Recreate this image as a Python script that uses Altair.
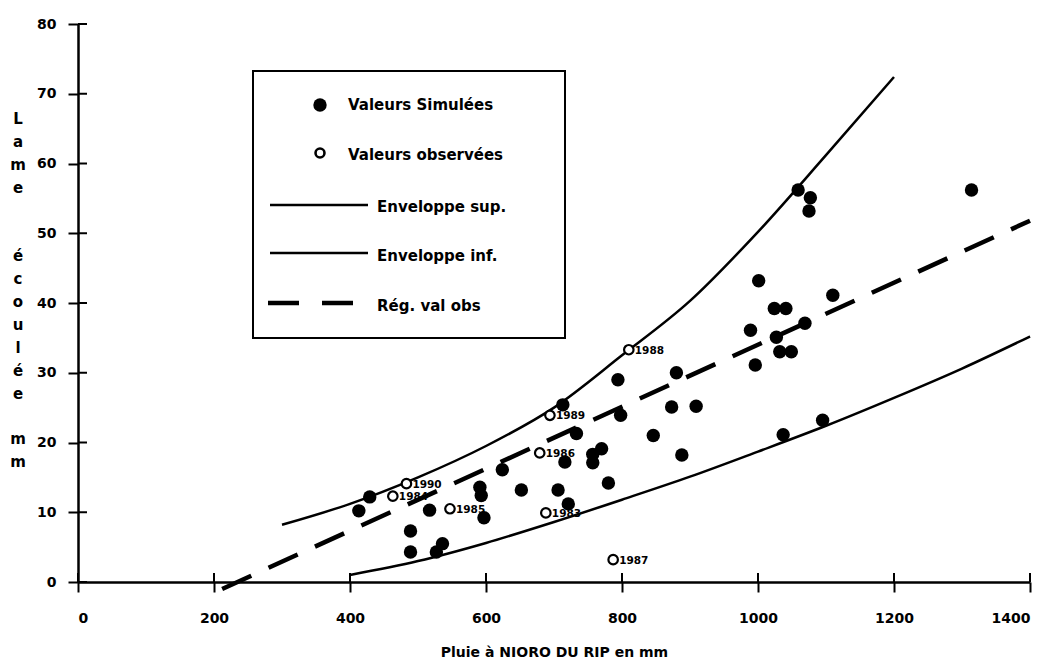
import altair as alt
import pandas as pd

# Lame écoulée simulée (mm) en fonction de la pluie à Nioro du Rip (mm)
sim_pluie = [413, 429, 489, 489, 517, 527, 536, 591, 593, 597, 624, 652, 706, 713,
             716, 721, 733, 757, 757, 770, 780, 794, 798, 846, 873, 880, 888, 909,
             989, 996, 1001, 1024, 1027, 1032, 1037, 1041, 1049, 1059, 1069, 1075,
             1077, 1095, 1110, 1314]
sim_lame = [10.2, 12.2, 7.3, 4.3, 10.3, 4.3, 5.5, 13.6, 12.4, 9.2, 16.1, 13.2, 13.2, 25.4,
            17.2, 11.2, 21.3, 18.3, 17.1, 19.1, 14.2, 29.0, 23.9, 21.0, 25.1, 30.0, 18.2, 25.2,
            36.1, 31.1, 43.2, 39.2, 35.1, 33.0, 21.1, 39.2, 33.0, 56.2, 37.1, 53.2,
            55.1, 23.2, 41.1, 56.2]

# Valeurs observées, avec l'année
obs_pluie = [463, 483, 547, 679, 688, 694, 787, 810]
obs_lame = [12.3, 14.1, 10.5, 18.5, 9.9, 23.9, 3.2, 33.3]
obs_annee = ["1984", "1990", "1985", "1986", "1983", "1989", "1987", "1988"]

# Enveloppes supérieure et inférieure
sup_pluie = [300, 400, 500, 600, 700, 800, 900, 1000, 1100, 1200]
sup_lame = [8.2, 11.2, 15.0, 19.5, 25.0, 32.5, 40.3, 50.2, 61.2, 72.4]
inf_pluie = [400, 500, 600, 700, 800, 900, 1000, 1100, 1200, 1300, 1400]
inf_lame = [1.0, 3.0, 5.6, 8.6, 11.8, 15.1, 18.7, 22.4, 26.4, 30.6, 35.2]

# Droite de régression sur les valeurs observées
reg_pluie = [212, 1400]
reg_lame = [-1.0, 51.8]

x_ticks = [0, 200, 400, 600, 800, 1000, 1200, 1400]
y_ticks = [0, 10, 20, 30, 40, 50, 60, 70, 80]
# titre vertical : chaque mot écrit une lettre par ligne
y_title_words = [["L", "a", "m", "e"], ["é", "c", "o", "u", "l", "é", "e"], ["m", "m"]]
y_title_top = [100, 237, 420]

W, H = 952, 558
FONT = "DejaVu Sans"

xs = alt.Scale(domain=[0, 1400], nice=False, zero=False)
ys = alt.Scale(domain=[0, 80], nice=False, zero=False)

X = alt.X("pluie:Q", scale=xs, axis=alt.Axis(
    values=x_ticks, format="d", title="Pluie à NIORO DU RIP en mm", labelPadding=19,
    titleY=63, titleBaseline="top", titleFontSize=14))
Y = alt.Y("lame:Q", scale=ys, axis=alt.Axis(
    values=y_ticks, format="d", title="", labelPadding=12))

sim = pd.DataFrame({"pluie": sim_pluie, "lame": sim_lame})
obs = pd.DataFrame({"pluie": obs_pluie, "lame": obs_lame, "annee": obs_annee})
sup = pd.DataFrame({"pluie": sup_pluie, "lame": sup_lame})
inf = pd.DataFrame({"pluie": inf_pluie, "lame": inf_lame})
reg = pd.DataFrame({"pluie": reg_pluie, "lame": reg_lame})
xt = pd.DataFrame({"pluie": x_ticks})
yt = pd.DataFrame({"lame": y_ticks})
one = pd.DataFrame({"k": [0]})

env_sup = alt.Chart(sup).mark_line(color="black", strokeWidth=2.5, interpolate="monotone").encode(x=X, y=Y)
env_inf = alt.Chart(inf).mark_line(color="black", strokeWidth=2.5, interpolate="monotone").encode(x=X, y=Y)
reg_line = alt.Chart(reg).mark_line(color="black", strokeWidth=4.5, strokeDash=[32, 19]).encode(x=X, y=Y)

pts_sim = alt.Chart(sim).mark_point(shape="circle", filled=True, color="black", size=180, opacity=1).encode(x=X, y=Y)
pts_obs = alt.Chart(obs).mark_point(shape="circle", filled=True, fill="white", stroke="black",
                                    strokeWidth=2.2, size=90, opacity=1).encode(x=X, y=Y)
lab_obs = alt.Chart(obs).mark_text(align="left", baseline="middle", dx=6, dy=1, font=FONT,
                                   fontWeight="bold", fontSize=10.5, color="black").encode(x=X, y=Y, text="annee:N")

# petites graduations vers l'intérieur
tick_x = alt.Chart(xt).mark_rule(color="black", strokeWidth=2).encode(x=X, y=alt.value(H - 9), y2=alt.value(H))
tick_y = alt.Chart(yt).mark_rule(color="black", strokeWidth=2).encode(y=Y, x=alt.value(0), x2=alt.value(9))

# titre de l'axe vertical
y_lab = [
    alt.Chart(one).mark_text(align="center", baseline="alphabetic", font=FONT, fontWeight="bold",
                             fontSize=15, lineHeight=23, color="black").encode(
        x=alt.value(-60), y=alt.value(top), text=alt.value(word))
    for word, top in zip(y_title_words, y_title_top)
]

# Cadre de légende
box = alt.Chart(one).mark_rect(fill="white", stroke="black", strokeWidth=2).encode(
    x=alt.value(175), x2=alt.value(487), y=alt.value(47), y2=alt.value(314))
leg_sim = alt.Chart(one).mark_point(shape="circle", filled=True, color="black", size=180, opacity=1).encode(
    x=alt.value(242), y=alt.value(81))
leg_obs = alt.Chart(one).mark_point(shape="circle", filled=True, fill="white", stroke="black",
                                    strokeWidth=2.6, size=80, opacity=1).encode(x=alt.value(242), y=alt.value(129))
leg_sup = alt.Chart(one).mark_rule(color="black", strokeWidth=2.5).encode(
    x=alt.value(192), x2=alt.value(290), y=alt.value(181))
leg_inf = alt.Chart(one).mark_rule(color="black", strokeWidth=2.5).encode(
    x=alt.value(192), x2=alt.value(290), y=alt.value(229))
leg_reg = alt.Chart(one).mark_rule(color="black", strokeWidth=4.5, strokeDash=[31, 23]).encode(
    x=alt.value(190), x2=alt.value(281), y=alt.value(279))


def leg_text(txt, x, y):
    return alt.Chart(one).mark_text(align="left", baseline="middle", font=FONT, fontWeight="bold",
                                    fontSize=15, color="black").encode(
        x=alt.value(x), y=alt.value(y), text=alt.value(txt))


legend = [box, leg_sim, leg_obs, leg_sup, leg_inf, leg_reg,
          leg_text("Valeurs Simulées", 270, 81),
          leg_text("Valeurs observées", 270, 131),
          leg_text("Enveloppe sup.", 299, 183),
          leg_text("Enveloppe inf.", 299, 232),
          leg_text("Rég. val obs", 299, 282)]

chart = alt.layer(
    tick_x, tick_y, env_sup, env_inf, reg_line, pts_sim, pts_obs, lab_obs, *y_lab, *legend
).properties(
    width=W, height=H,
    autosize=alt.AutoSizeParams(type="none"),
    padding={"left": 78, "top": 24, "right": 24, "bottom": 82},
    background="white",
).configure_view(strokeWidth=0).configure_axis(
    grid=False, domainColor="black", domainWidth=2.5, tickColor="black", tickWidth=2,
    tickSize=10, labelFont=FONT, labelFontWeight="bold", labelFontSize=14, labelColor="black",
    titleFont=FONT, titleFontWeight="bold", titleColor="black",
)

chart.save("out.html", embed_options={"renderer": "svg", "actions": False})
